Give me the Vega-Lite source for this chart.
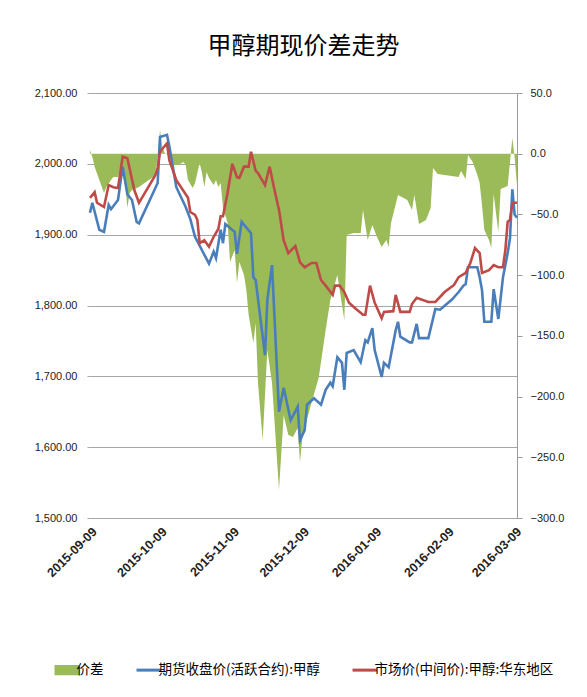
{
  "$schema": "https://vega.github.io/schema/vega-lite/v6.json",
  "width": 427,
  "height": 425,
  "autosize": {"type": "none"},
  "padding": {"left": 90, "top": 93, "right": 70, "bottom": 179},
  "background": "white",
  "title": {"text": "甲醇期现价差走势", "font": "Noto Sans CJK SC", "fontSize": 24, "fontWeight": "normal", "color": "#000000", "anchor": "middle", "offset": 28},
  "config": {
    "view": {"stroke": null},
    "axis": {"labelFont": "Liberation Sans", "labelFontSize": 11, "labelColor": "#222222", "titleFontSize": 0},
    "legend": {
      "title": null, "orient": "none", "legendX": -30, "legendY": 570, "direction": "horizontal",
      "labelFont": "Noto Sans CJK SC", "labelFontSize": 13.5, "labelColor": "#000000", "labelOffset": 3, "labelLimit": 400,
      "symbolSize": 600, "columnPadding": 26, "symbolStrokeWidth": 3
    }
  },
  "datasets": {
    "spread": [
      {"date": "2015-09-09", "spread": 3.1}, {"date": "2015-09-10", "spread": -2.7}, {"date": "2015-09-11", "spread": -10.9},
      {"date": "2015-09-13", "spread": -21.6}, {"date": "2015-09-15", "spread": -32.4}, {"date": "2015-09-16", "spread": -27.4},
      {"date": "2015-09-18", "spread": -21.6}, {"date": "2015-09-19", "spread": -19.2}, {"date": "2015-09-21", "spread": -19.2},
      {"date": "2015-09-22", "spread": -11.8}, {"date": "2015-09-23", "spread": -10.9}, {"date": "2015-09-24", "spread": -21.6},
      {"date": "2015-09-25", "spread": -44.7}, {"date": "2015-09-26", "spread": -32.4}, {"date": "2015-09-27", "spread": -29.9},
      {"date": "2015-09-30", "spread": -27.4}, {"date": "2015-10-03", "spread": -23.3}, {"date": "2015-10-06", "spread": -19.2},
      {"date": "2015-10-07", "spread": -15.9}, {"date": "2015-10-08", "spread": -2.7}, {"date": "2015-10-09", "spread": 19.5},
      {"date": "2015-10-10", "spread": 5.5}, {"date": "2015-10-11", "spread": 0.6}, {"date": "2015-10-13", "spread": -1.9},
      {"date": "2015-10-15", "spread": -9.3}, {"date": "2015-10-17", "spread": -9.3}, {"date": "2015-10-19", "spread": -6.8},
      {"date": "2015-10-20", "spread": -9.3}, {"date": "2015-10-21", "spread": -21.6}, {"date": "2015-10-23", "spread": -28.2},
      {"date": "2015-10-24", "spread": -24.1}, {"date": "2015-10-26", "spread": -7.6}, {"date": "2015-10-27", "spread": -15.9},
      {"date": "2015-10-28", "spread": -27.4}, {"date": "2015-10-29", "spread": -15.1}, {"date": "2015-10-30", "spread": -20.0},
      {"date": "2015-11-01", "spread": -25.8}, {"date": "2015-11-02", "spread": -21.6}, {"date": "2015-11-03", "spread": -27.4},
      {"date": "2015-11-04", "spread": -24.1}, {"date": "2015-11-05", "spread": -44.7}, {"date": "2015-11-07", "spread": -57.1},
      {"date": "2015-11-08", "spread": -89.2}, {"date": "2015-11-10", "spread": -79.3}, {"date": "2015-11-11", "spread": -106.5},
      {"date": "2015-11-12", "spread": -89.2}, {"date": "2015-11-14", "spread": -99.9}, {"date": "2015-11-15", "spread": -112.2},
      {"date": "2015-11-16", "spread": -132.8}, {"date": "2015-11-18", "spread": -155.9}, {"date": "2015-11-19", "spread": -139.4},
      {"date": "2015-11-20", "spread": -188.8}, {"date": "2015-11-22", "spread": -235.8}, {"date": "2015-11-24", "spread": -161.6},
      {"date": "2015-11-26", "spread": -188.8}, {"date": "2015-11-29", "spread": -276.9}, {"date": "2015-12-01", "spread": -215.2},
      {"date": "2015-12-03", "spread": -231.6}, {"date": "2015-12-05", "spread": -233.3}, {"date": "2015-12-07", "spread": -225.9},
      {"date": "2015-12-08", "spread": -253.9}, {"date": "2015-12-09", "spread": -234.1}, {"date": "2015-12-10", "spread": -225.9},
      {"date": "2015-12-13", "spread": -204.5}, {"date": "2015-12-16", "spread": -184.7}, {"date": "2015-12-19", "spread": -145.2},
      {"date": "2015-12-21", "spread": -120.5}, {"date": "2015-12-24", "spread": -99.9}, {"date": "2015-12-27", "spread": -136.9},
      {"date": "2015-12-28", "spread": -66.9}, {"date": "2015-12-31", "spread": -65.3}, {"date": "2016-01-03", "spread": -65.3},
      {"date": "2016-01-04", "spread": -46.3}, {"date": "2016-01-06", "spread": -71.1}, {"date": "2016-01-08", "spread": -58.7},
      {"date": "2016-01-10", "spread": -68.6}, {"date": "2016-01-12", "spread": -76.8}, {"date": "2016-01-14", "spread": -71.1},
      {"date": "2016-01-15", "spread": -76.8}, {"date": "2016-01-16", "spread": -57.1}, {"date": "2016-01-19", "spread": -34.0},
      {"date": "2016-01-23", "spread": -38.1}, {"date": "2016-01-25", "spread": -46.3}, {"date": "2016-01-26", "spread": -34.0},
      {"date": "2016-01-28", "spread": -57.9}, {"date": "2016-01-31", "spread": -54.6}, {"date": "2016-02-02", "spread": -44.7},
      {"date": "2016-02-03", "spread": -11.8}, {"date": "2016-02-05", "spread": -16.7}, {"date": "2016-02-14", "spread": -19.2},
      {"date": "2016-02-15", "spread": -14.2}, {"date": "2016-02-17", "spread": -20.8}, {"date": "2016-02-18", "spread": -1.1},
      {"date": "2016-02-20", "spread": -6.8}, {"date": "2016-02-22", "spread": -17.5}, {"date": "2016-02-23", "spread": -24.1},
      {"date": "2016-02-24", "spread": -42.2}, {"date": "2016-02-25", "spread": -62.8}, {"date": "2016-02-27", "spread": -71.1},
      {"date": "2016-02-28", "spread": -77.6}, {"date": "2016-02-29", "spread": -33.2}, {"date": "2016-03-02", "spread": -64.5},
      {"date": "2016-03-03", "spread": -29.1}, {"date": "2016-03-06", "spread": -26.6}, {"date": "2016-03-08", "spread": 12.9},
      {"date": "2016-03-09", "spread": -3.5}, {"date": "2016-03-10", "spread": -25.8}
    ],
    "price": [
      {"date": "2015-09-09", "series": "期货收盘价(活跃合约):甲醇", "price": 1931},
      {"date": "2015-09-10", "series": "期货收盘价(活跃合约):甲醇", "price": 1945},
      {"date": "2015-09-13", "series": "期货收盘价(活跃合约):甲醇", "price": 1907},
      {"date": "2015-09-15", "series": "期货收盘价(活跃合约):甲醇", "price": 1904},
      {"date": "2015-09-17", "series": "期货收盘价(活跃合约):甲醇", "price": 1942},
      {"date": "2015-09-18", "series": "期货收盘价(活跃合约):甲醇", "price": 1936},
      {"date": "2015-09-21", "series": "期货收盘价(活跃合约):甲醇", "price": 1949},
      {"date": "2015-09-23", "series": "期货收盘价(活跃合约):甲醇", "price": 1996},
      {"date": "2015-09-25", "series": "期货收盘价(活跃合约):甲醇", "price": 1957},
      {"date": "2015-09-27", "series": "期货收盘价(活跃合约):甲醇", "price": 1949},
      {"date": "2015-09-29", "series": "期货收盘价(活跃合约):甲醇", "price": 1918},
      {"date": "2015-09-30", "series": "期货收盘价(活跃合约):甲醇", "price": 1916},
      {"date": "2015-10-08", "series": "期货收盘价(活跃合约):甲醇", "price": 1973},
      {"date": "2015-10-09", "series": "期货收盘价(活跃合约):甲醇", "price": 2038},
      {"date": "2015-10-12", "series": "期货收盘价(活跃合约):甲醇", "price": 2041},
      {"date": "2015-10-13", "series": "期货收盘价(活跃合约):甲醇", "price": 2025},
      {"date": "2015-10-16", "series": "期货收盘价(活跃合约):甲醇", "price": 1967},
      {"date": "2015-10-20", "series": "期货收盘价(活跃合约):甲醇", "price": 1939},
      {"date": "2015-10-22", "series": "期货收盘价(活跃合约):甲醇", "price": 1922},
      {"date": "2015-10-24", "series": "期货收盘价(活跃合约):甲醇", "price": 1897},
      {"date": "2015-10-27", "series": "期货收盘价(活跃合约):甲醇", "price": 1878},
      {"date": "2015-10-30", "series": "期货收盘价(活跃合约):甲醇", "price": 1859},
      {"date": "2015-11-01", "series": "期货收盘价(活跃合约):甲醇", "price": 1876},
      {"date": "2015-11-02", "series": "期货收盘价(活跃合约):甲醇", "price": 1867},
      {"date": "2015-11-04", "series": "期货收盘价(活跃合约):甲醇", "price": 1907},
      {"date": "2015-11-05", "series": "期货收盘价(活跃合约):甲醇", "price": 1888},
      {"date": "2015-11-06", "series": "期货收盘价(活跃合约):甲醇", "price": 1915},
      {"date": "2015-11-10", "series": "期货收盘价(活跃合约):甲醇", "price": 1904},
      {"date": "2015-11-11", "series": "期货收盘价(活跃合约):甲醇", "price": 1873},
      {"date": "2015-11-13", "series": "期货收盘价(活跃合约):甲醇", "price": 1918},
      {"date": "2015-11-17", "series": "期货收盘价(活跃合约):甲醇", "price": 1902},
      {"date": "2015-11-18", "series": "期货收盘价(活跃合约):甲醇", "price": 1840},
      {"date": "2015-11-19", "series": "期货收盘价(活跃合约):甲醇", "price": 1836},
      {"date": "2015-11-23", "series": "期货收盘价(活跃合约):甲醇", "price": 1730},
      {"date": "2015-11-24", "series": "期货收盘价(活跃合约):甲醇", "price": 1808},
      {"date": "2015-11-26", "series": "期货收盘价(活跃合约):甲醇", "price": 1857},
      {"date": "2015-11-29", "series": "期货收盘价(活跃合约):甲醇", "price": 1650},
      {"date": "2015-12-01", "series": "期货收盘价(活跃合约):甲醇", "price": 1684},
      {"date": "2015-12-04", "series": "期货收盘价(活跃合约):甲醇", "price": 1638},
      {"date": "2015-12-07", "series": "期货收盘价(活跃合约):甲醇", "price": 1657},
      {"date": "2015-12-08", "series": "期货收盘价(活跃合约):甲醇", "price": 1610},
      {"date": "2015-12-10", "series": "期货收盘价(活跃合约):甲醇", "price": 1624},
      {"date": "2015-12-11", "series": "期货收盘价(活跃合约):甲醇", "price": 1660},
      {"date": "2015-12-14", "series": "期货收盘价(活跃合约):甲醇", "price": 1669},
      {"date": "2015-12-17", "series": "期货收盘价(活跃合约):甲醇", "price": 1660},
      {"date": "2015-12-19", "series": "期货收盘价(活跃合约):甲醇", "price": 1681},
      {"date": "2015-12-21", "series": "期货收盘价(活跃合约):甲醇", "price": 1691},
      {"date": "2015-12-22", "series": "期货收盘价(活跃合约):甲醇", "price": 1686},
      {"date": "2015-12-24", "series": "期货收盘价(活跃合约):甲醇", "price": 1727},
      {"date": "2015-12-26", "series": "期货收盘价(活跃合约):甲醇", "price": 1719},
      {"date": "2015-12-27", "series": "期货收盘价(活跃合约):甲醇", "price": 1681},
      {"date": "2015-12-28", "series": "期货收盘价(活跃合约):甲醇", "price": 1733},
      {"date": "2015-12-31", "series": "期货收盘价(活跃合约):甲醇", "price": 1737},
      {"date": "2016-01-03", "series": "期货收盘价(活跃合约):甲醇", "price": 1720},
      {"date": "2016-01-05", "series": "期货收盘价(活跃合约):甲醇", "price": 1751},
      {"date": "2016-01-06", "series": "期货收盘价(活跃合约):甲醇", "price": 1748},
      {"date": "2016-01-08", "series": "期货收盘价(活跃合约):甲醇", "price": 1768},
      {"date": "2016-01-09", "series": "期货收盘价(活跃合约):甲醇", "price": 1737},
      {"date": "2016-01-12", "series": "期货收盘价(活跃合约):甲醇", "price": 1699},
      {"date": "2016-01-13", "series": "期货收盘价(活跃合约):甲醇", "price": 1719},
      {"date": "2016-01-15", "series": "期货收盘价(活跃合约):甲醇", "price": 1713},
      {"date": "2016-01-18", "series": "期货收盘价(活跃合约):甲醇", "price": 1765},
      {"date": "2016-01-19", "series": "期货收盘价(活跃合约):甲醇", "price": 1777},
      {"date": "2016-01-20", "series": "期货收盘价(活跃合约):甲醇", "price": 1756},
      {"date": "2016-01-24", "series": "期货收盘价(活跃合约):甲醇", "price": 1748},
      {"date": "2016-01-25", "series": "期货收盘价(活跃合约):甲醇", "price": 1748},
      {"date": "2016-01-27", "series": "期货收盘价(活跃合约):甲醇", "price": 1774},
      {"date": "2016-01-28", "series": "期货收盘价(活跃合约):甲醇", "price": 1754},
      {"date": "2016-02-01", "series": "期货收盘价(活跃合约):甲醇", "price": 1754},
      {"date": "2016-02-04", "series": "期货收盘价(活跃合约):甲醇", "price": 1795},
      {"date": "2016-02-06", "series": "期货收盘价(活跃合约):甲醇", "price": 1794},
      {"date": "2016-02-11", "series": "期货收盘价(活跃合约):甲醇", "price": 1808},
      {"date": "2016-02-14", "series": "期货收盘价(活跃合约):甲醇", "price": 1819},
      {"date": "2016-02-16", "series": "期货收盘价(活跃合约):甲醇", "price": 1828},
      {"date": "2016-02-17", "series": "期货收盘价(活跃合约):甲醇", "price": 1830},
      {"date": "2016-02-18", "series": "期货收盘价(活跃合约):甲醇", "price": 1854},
      {"date": "2016-02-22", "series": "期货收盘价(活跃合约):甲醇", "price": 1854},
      {"date": "2016-02-23", "series": "期货收盘价(活跃合约):甲醇", "price": 1840},
      {"date": "2016-02-24", "series": "期货收盘价(活跃合约):甲醇", "price": 1822},
      {"date": "2016-02-25", "series": "期货收盘价(活跃合约):甲醇", "price": 1777},
      {"date": "2016-02-28", "series": "期货收盘价(活跃合约):甲醇", "price": 1777},
      {"date": "2016-02-29", "series": "期货收盘价(活跃合约):甲醇", "price": 1823},
      {"date": "2016-03-02", "series": "期货收盘价(活跃合约):甲醇", "price": 1781},
      {"date": "2016-03-04", "series": "期货收盘价(活跃合约):甲醇", "price": 1840},
      {"date": "2016-03-06", "series": "期货收盘价(活跃合约):甲醇", "price": 1874},
      {"date": "2016-03-07", "series": "期货收盘价(活跃合约):甲醇", "price": 1895},
      {"date": "2016-03-08", "series": "期货收盘价(活跃合约):甲醇", "price": 1964},
      {"date": "2016-03-09", "series": "期货收盘价(活跃合约):甲醇", "price": 1928},
      {"date": "2016-03-10", "series": "期货收盘价(活跃合约):甲醇", "price": 1924},
      {"date": "2015-09-09", "series": "市场价(中间价):甲醇:华东地区", "price": 1952},
      {"date": "2015-09-11", "series": "市场价(中间价):甲醇:华东地区", "price": 1960},
      {"date": "2015-09-12", "series": "市场价(中间价):甲醇:华东地区", "price": 1945},
      {"date": "2015-09-15", "series": "市场价(中间价):甲醇:华东地区", "price": 1939},
      {"date": "2015-09-17", "series": "市场价(中间价):甲醇:华东地区", "price": 1970},
      {"date": "2015-09-19", "series": "市场价(中间价):甲醇:华东地区", "price": 1967},
      {"date": "2015-09-21", "series": "市场价(中间价):甲醇:华东地区", "price": 1966},
      {"date": "2015-09-23", "series": "市场价(中间价):甲醇:华东地区", "price": 2010},
      {"date": "2015-09-25", "series": "市场价(中间价):甲醇:华东地区", "price": 2008},
      {"date": "2015-09-28", "series": "市场价(中间价):甲醇:华东地区", "price": 1963},
      {"date": "2015-09-30", "series": "市场价(中间价):甲醇:华东地区", "price": 1945},
      {"date": "2015-10-07", "series": "市场价(中间价):甲醇:华东地区", "price": 1984},
      {"date": "2015-10-08", "series": "市场价(中间价):甲醇:华东地区", "price": 1994},
      {"date": "2015-10-09", "series": "市场价(中间价):甲醇:华东地区", "price": 2017},
      {"date": "2015-10-12", "series": "市场价(中间价):甲醇:华东地区", "price": 2029},
      {"date": "2015-10-13", "series": "市场价(中间价):甲醇:华东地区", "price": 2005},
      {"date": "2015-10-16", "series": "市场价(中间价):甲醇:华东地区", "price": 1977},
      {"date": "2015-10-21", "series": "市场价(中间价):甲醇:华东地区", "price": 1952},
      {"date": "2015-10-22", "series": "市场价(中间价):甲醇:华东地区", "price": 1932},
      {"date": "2015-10-24", "series": "市场价(中间价):甲醇:华东地区", "price": 1928},
      {"date": "2015-10-25", "series": "市场价(中间价):甲醇:华东地区", "price": 1921},
      {"date": "2015-10-26", "series": "市场价(中间价):甲醇:华东地区", "price": 1888},
      {"date": "2015-10-28", "series": "市场价(中间价):甲醇:华东地区", "price": 1892},
      {"date": "2015-10-30", "series": "市场价(中间价):甲醇:华东地区", "price": 1883},
      {"date": "2015-11-01", "series": "市场价(中间价):甲醇:华东地区", "price": 1897},
      {"date": "2015-11-03", "series": "市场价(中间价):甲醇:华东地区", "price": 1908},
      {"date": "2015-11-04", "series": "市场价(中间价):甲醇:华东地区", "price": 1926},
      {"date": "2015-11-05", "series": "市场价(中间价):甲醇:华东地区", "price": 1926},
      {"date": "2015-11-07", "series": "市场价(中间价):甲醇:华东地区", "price": 1960},
      {"date": "2015-11-09", "series": "市场价(中间价):甲醇:华东地区", "price": 2000},
      {"date": "2015-11-11", "series": "市场价(中间价):甲醇:华东地区", "price": 1981},
      {"date": "2015-11-12", "series": "市场价(中间价):甲醇:华东地区", "price": 1980},
      {"date": "2015-11-14", "series": "市场价(中间价):甲醇:华东地区", "price": 1996},
      {"date": "2015-11-16", "series": "市场价(中间价):甲醇:华东地区", "price": 1996},
      {"date": "2015-11-17", "series": "市场价(中间价):甲醇:华东地区", "price": 2017},
      {"date": "2015-11-19", "series": "市场价(中间价):甲醇:华东地区", "price": 1990},
      {"date": "2015-11-20", "series": "市场价(中间价):甲醇:华东地区", "price": 1987},
      {"date": "2015-11-23", "series": "市场价(中间价):甲醇:华东地区", "price": 1970},
      {"date": "2015-11-25", "series": "市场价(中间价):甲醇:华东地区", "price": 1996},
      {"date": "2015-11-27", "series": "市场价(中间价):甲醇:华东地区", "price": 1964},
      {"date": "2015-11-29", "series": "市场价(中间价):甲醇:华东地区", "price": 1935},
      {"date": "2015-12-01", "series": "市场价(中间价):甲醇:华东地区", "price": 1892},
      {"date": "2015-12-03", "series": "市场价(中间价):甲醇:华东地区", "price": 1874},
      {"date": "2015-12-06", "series": "市场价(中间价):甲醇:华东地区", "price": 1884},
      {"date": "2015-12-08", "series": "市场价(中间价):甲醇:华东地区", "price": 1861},
      {"date": "2015-12-10", "series": "市场价(中间价):甲醇:华东地区", "price": 1854},
      {"date": "2015-12-13", "series": "市场价(中间价):甲醇:华东地区", "price": 1860},
      {"date": "2015-12-15", "series": "市场价(中间价):甲醇:华东地区", "price": 1860},
      {"date": "2015-12-17", "series": "市场价(中间价):甲醇:华东地区", "price": 1836},
      {"date": "2015-12-19", "series": "市场价(中间价):甲醇:华东地区", "price": 1828},
      {"date": "2015-12-22", "series": "市场价(中间价):甲醇:华东地区", "price": 1815},
      {"date": "2015-12-23", "series": "市场价(中间价):甲醇:华东地区", "price": 1828},
      {"date": "2015-12-25", "series": "市场价(中间价):甲醇:华东地区", "price": 1828},
      {"date": "2015-12-27", "series": "市场价(中间价):甲醇:华东地区", "price": 1819},
      {"date": "2015-12-29", "series": "市场价(中间价):甲醇:华东地区", "price": 1804},
      {"date": "2016-01-01", "series": "市场价(中间价):甲醇:华东地区", "price": 1795},
      {"date": "2016-01-04", "series": "市场价(中间价):甲醇:华东地区", "price": 1787},
      {"date": "2016-01-05", "series": "市场价(中间价):甲醇:华东地区", "price": 1787},
      {"date": "2016-01-07", "series": "市场价(中间价):甲醇:华东地区", "price": 1828},
      {"date": "2016-01-09", "series": "市场价(中间价):甲醇:华东地区", "price": 1804},
      {"date": "2016-01-12", "series": "市场价(中间价):甲醇:华东地区", "price": 1782},
      {"date": "2016-01-13", "series": "市场价(中间价):甲醇:华东地区", "price": 1791},
      {"date": "2016-01-17", "series": "市场价(中间价):甲醇:华东地区", "price": 1792},
      {"date": "2016-01-18", "series": "市场价(中间价):甲醇:华东地区", "price": 1815},
      {"date": "2016-01-20", "series": "市场价(中间价):甲醇:华东地区", "price": 1791},
      {"date": "2016-01-24", "series": "市场价(中间价):甲醇:华东地区", "price": 1791},
      {"date": "2016-01-25", "series": "市场价(中间价):甲醇:华东地区", "price": 1802},
      {"date": "2016-01-27", "series": "市场价(中间价):甲醇:华东地区", "price": 1811},
      {"date": "2016-02-01", "series": "市场价(中间价):甲醇:华东地区", "price": 1805},
      {"date": "2016-02-04", "series": "市场价(中间价):甲醇:华东地区", "price": 1805},
      {"date": "2016-02-08", "series": "市场价(中间价):甲醇:华东地区", "price": 1819},
      {"date": "2016-02-12", "series": "市场价(中间价):甲醇:华东地区", "price": 1829},
      {"date": "2016-02-14", "series": "市场价(中间价):甲醇:华东地区", "price": 1840},
      {"date": "2016-02-17", "series": "市场价(中间价):甲醇:华东地区", "price": 1846},
      {"date": "2016-02-19", "series": "市场价(中间价):甲醇:华东地区", "price": 1860},
      {"date": "2016-02-21", "series": "市场价(中间价):甲醇:华东地区", "price": 1881},
      {"date": "2016-02-23", "series": "市场价(中间价):甲醇:华东地区", "price": 1874},
      {"date": "2016-02-24", "series": "市场价(中间价):甲醇:华东地区", "price": 1846},
      {"date": "2016-02-27", "series": "市场价(中间价):甲醇:华东地区", "price": 1850},
      {"date": "2016-02-29", "series": "市场价(中间价):甲醇:华东地区", "price": 1857},
      {"date": "2016-03-02", "series": "市场价(中间价):甲醇:华东地区", "price": 1854},
      {"date": "2016-03-04", "series": "市场价(中间价):甲醇:华东地区", "price": 1854},
      {"date": "2016-03-05", "series": "市场价(中间价):甲醇:华东地区", "price": 1878},
      {"date": "2016-03-06", "series": "市场价(中间价):甲醇:华东地区", "price": 1918},
      {"date": "2016-03-07", "series": "市场价(中间价):甲醇:华东地区", "price": 1921},
      {"date": "2016-03-08", "series": "市场价(中间价):甲醇:华东地区", "price": 1945},
      {"date": "2016-03-10", "series": "市场价(中间价):甲醇:华东地区", "price": 1945}
    ]
  },
  "layer": [
    {
      "data": {"name": "spread"},
      "mark": {"type": "area", "opacity": 1, "interpolate": "linear"},
      "encoding": {
        "x": {
          "field": "date", "type": "temporal",
          "scale": {"type": "utc", "domain": [{"year": 2015, "month": 9, "date": 9, "utc": true}, {"year": 2016, "month": 3, "date": 10, "utc": true}]},
          "axis": {
            "title": null, "format": "%Y-%m-%d", "labelAngle": -45, "labelFontWeight": "bold", "labelFontSize": 12.5, "labelColor": "#222222",
            "domain": false, "ticks": false, "grid": false, "labelPadding": 7, "labelOverlap": false,
            "values": [
              {"year": 2015, "month": 9, "date": 9, "utc": true}, {"year": 2015, "month": 10, "date": 9, "utc": true},
              {"year": 2015, "month": 11, "date": 9, "utc": true}, {"year": 2015, "month": 12, "date": 9, "utc": true},
              {"year": 2016, "month": 1, "date": 9, "utc": true}, {"year": 2016, "month": 2, "date": 9, "utc": true},
              {"year": 2016, "month": 3, "date": 9, "utc": true}
            ]
          }
        },
        "y": {
          "field": "spread", "type": "quantitative",
          "scale": {"domain": [-300, 50], "nice": false, "zero": true},
          "axis": {
            "orient": "right", "title": null, "format": ".1f", "values": [-300, -250, -200, -150, -100, -50, 0, 50],
            "grid": false, "domain": true, "domainColor": "#9a9a9a", "ticks": true, "tickSize": 5, "tickColor": "#9a9a9a", "labelPadding": 8
          }
        },
        "color": {
          "datum": "价差", "type": "nominal",
          "scale": {"domain": ["价差", "期货收盘价(活跃合约):甲醇", "市场价(中间价):甲醇:华东地区"], "range": ["#9BBB59", "#4A7EBB", "#BE4B48"]},
          "legend": {
            "title": null, "orient": "none", "legendX": -30, "legendY": 570, "direction": "horizontal", "labelLimit": 400,
            "encode": {
              "symbols": {
                "update": {
                  "shape": {"signal": "datum.value === '价差' ? 'M-1,-0.42H1V0.42H-1Z' : 'stroke'"},
                  "fill": {"scale": "color", "field": "value"},
                  "stroke": {"scale": "color", "field": "value"},
                  "strokeWidth": {"signal": "datum.value === '价差' ? 0 : 3"},
                  "opacity": {"value": 1}
                }
              }
            }
          }
        }
      }
    },
    {
      "data": {"name": "price"},
      "mark": {"type": "line", "strokeWidth": 2.6, "interpolate": "linear"},
      "encoding": {
        "x": {"field": "date", "type": "temporal"},
        "y": {
          "field": "price", "type": "quantitative",
          "scale": {"domain": [1500, 2100], "nice": false, "zero": false},
          "axis": {
            "orient": "left", "title": null, "format": ",.2f", "values": [1500, 1600, 1700, 1800, 1900, 2000, 2100],
            "grid": true, "gridColor": "#a6a6a6", "gridWidth": 1, "domain": false, "ticks": true, "tickSize": 3, "tickColor": "#a6a6a6", "labelPadding": 10
          }
        },
        "color": {
          "field": "series", "type": "nominal",
          "legend": {
            "title": null, "orient": "none", "legendX": -30, "legendY": 570, "direction": "horizontal", "labelLimit": 400,
            "encode": {
              "symbols": {
                "update": {
                  "shape": {"signal": "datum.value === '价差' ? 'M-1,-0.42H1V0.42H-1Z' : 'stroke'"},
                  "fill": {"scale": "color", "field": "value"},
                  "stroke": {"scale": "color", "field": "value"},
                  "strokeWidth": {"signal": "datum.value === '价差' ? 0 : 3"},
                  "opacity": {"value": 1}
                }
              }
            }
          }
        }
      }
    }
  ],
  "resolve": {"scale": {"y": "independent"}}
}
